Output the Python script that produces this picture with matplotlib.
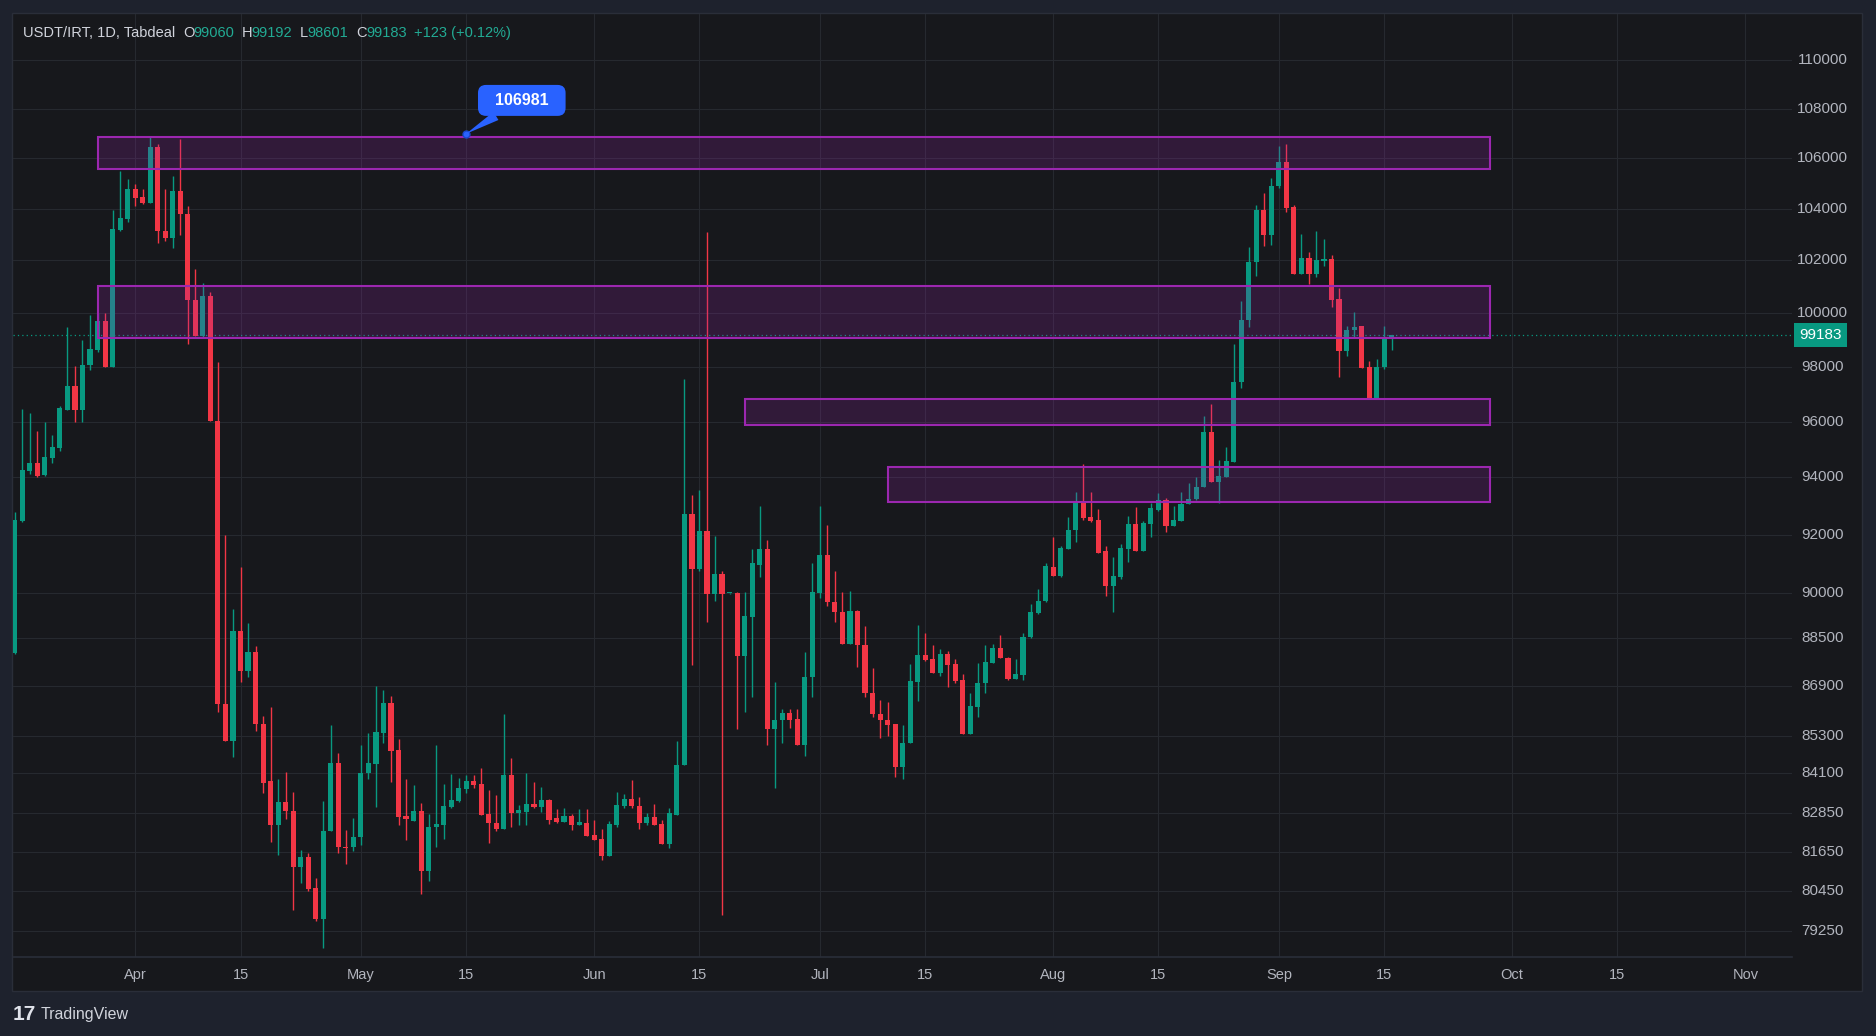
import numpy as np
import pandas as pd
import matplotlib
matplotlib.use('Agg')
import matplotlib.pyplot as plt
import matplotlib.dates as mdates
import matplotlib.transforms as mtransforms
from matplotlib.patches import Rectangle
from matplotlib.ticker import NullLocator

plt.rcParams['font.family'] = ['Liberation Sans', 'DejaVu Sans']

# daily candles USDT/IRT (Tabdeal), 16 Mar 2025 -> 15 Sep 2025
opens = [87990, 92480, 94240, 94510, 94070, 94700, 95040, 96430, 97300, 96430,
         98080, 98620, 99700, 97990, 103190, 103610, 104780, 104460, 104210, 106440,
         103140, 102870, 104690, 103780, 100500, 99140, 100660, 96010, 86330, 85110,
         88710, 87410, 88030, 85660, 83850, 82460, 83200, 82910, 81190, 81500,
         80550, 79620, 82300, 84410, 81790, 81780, 82100, 84100, 84400, 85390,
         86360, 84840, 82750, 82610, 82910, 81070, 82400, 82480, 83050, 83210,
         83590, 83850, 83760, 82810, 82550, 82350, 84040, 82850, 82890, 83140,
         83050, 83260, 82680, 82570, 82750, 82460, 82540, 82170, 82030, 81510,
         82460, 83060, 83300, 83060, 82540, 82710, 82500, 81900, 82780, 84350,
         92710, 90800, 92120, 89980, 90660, 89990, 90000, 87880, 89180, 90970,
         91510, 85510, 85790, 86010, 85830, 85000, 87210, 90000, 91280, 89700,
         89360, 88290, 89400, 88240, 86680, 85990, 85810, 85660, 84290, 85050,
         87040, 87930, 87790, 87340, 87960, 87630, 87100, 85360, 86230, 87010,
         87670, 88150, 87820, 87150, 87260, 88510, 89320, 89720, 90890, 90590,
         91490, 92150, 93180, 92600, 92520, 91430, 90230, 90550, 91490, 92380,
         91430, 92380, 92840, 93190, 92290, 92460, 93080, 93240, 93680, 95630,
         93850, 94020, 94550, 97440, 99730, 101940, 103940, 102970, 104880, 105830,
         104060, 101480, 102090, 101480, 101990, 102060, 100520, 98580, 99360, 99510,
         97990, 96850, 98000, 99060]
highs = [92780, 96440, 96310, 95640, 96000, 95520, 96570, 99480, 98040, 98990,
         99940, 100000, 100000, 103970, 105500, 105180, 104970, 104780, 106890, 106580,
         104780, 105290, 106770, 104120, 101680, 101130, 100800, 98180, 91990, 89470,
         90880, 89000, 88230, 85940, 86230, 83910, 84130, 83520, 81710, 81610,
         80840, 83230, 85650, 84750, 82320, 82680, 85000, 85370, 86900, 86770,
         86580, 85180, 83910, 83720, 83150, 82810, 85000, 83760, 84080, 83940,
         84040, 84040, 84270, 83560, 83400, 85990, 84570, 83110, 84100, 83810,
         83660, 83300, 82960, 83020, 82820, 82960, 82960, 82640, 82360, 82600,
         83520, 83440, 83880, 83360, 82850, 83140, 82640, 82990, 85120, 97530,
         93370, 93560, 103100, 91940, 90740, 90010, 90020, 90020, 91510, 93010,
         91830, 87030, 86140, 86160, 86160, 88010, 91010, 92980, 92320, 90740,
         90020, 90060, 89440, 88880, 87500, 86440, 86370, 85660, 85630, 87630,
         88930, 88670, 88260, 88110, 88070, 87780, 87300, 86680, 87650, 88260,
         88280, 88590, 87870, 87780, 88650, 89640, 90140, 91010, 91920, 91620,
         92600, 93500, 94480, 93500, 92890, 91600, 91230, 91690, 92640, 92970,
         92460, 93100, 93450, 93270, 93010, 93500, 93790, 94000, 96190, 96640,
         94620, 95100, 98830, 100450, 102520, 104160, 104620, 105220, 106490, 106580,
         104160, 103030, 102320, 103140, 102840, 102220, 100930, 99510, 100030, 99530,
         98210, 98300, 99530, 99192]
lows = [87950, 92420, 94110, 94000, 94050, 94510, 94930, 96430, 96000, 96000,
        97890, 98540, 97990, 97990, 103120, 103500, 104120, 104170, 104210, 102660,
        102730, 102480, 102980, 98860, 99140, 99110, 96010, 86060, 85110, 84620,
        87040, 87210, 85450, 83480, 81950, 81550, 82660, 79870, 80680, 80440,
        79560, 78750, 82300, 81620, 81270, 81680, 81860, 83910, 83030, 85050,
        83830, 82480, 82010, 82600, 80360, 80760, 81800, 82040, 83000, 83180,
        83460, 83630, 82780, 81930, 82300, 82350, 82420, 82460, 82460, 83020,
        82880, 82500, 82540, 82570, 82310, 82460, 82140, 82000, 81400, 81510,
        82400, 83020, 83020, 82360, 82460, 82460, 81900, 81750, 82780, 84350,
        87600, 90740, 89010, 89720, 79730, 89950, 85510, 86050, 86550, 90550,
        85000, 83620, 85060, 85540, 85000, 84630, 86550, 89830, 89550, 89010,
        88290, 88290, 87530, 86550, 85900, 85230, 85300, 83990, 83920, 85050,
        86420, 87740, 87340, 87230, 86860, 87010, 85360, 85360, 85900, 86680,
        87650, 87820, 87100, 87150, 87100, 88490, 89290, 89680, 90590, 90550,
        91490, 91740, 92520, 92430, 91370, 89890, 89350, 90480, 91050, 91430,
        91430, 91920, 92810, 92080, 92290, 92460, 93080, 93190, 93680, 93850,
        93100, 94000, 94550, 97220, 99480, 101420, 102560, 102580, 104800, 103870,
        101480, 101480, 101100, 101360, 101780, 100230, 97630, 98400, 99110, 97960,
        96850, 96850, 97900, 98601]
closes = [92510, 94260, 94510, 94050, 94710, 95090, 96500, 97300, 96430, 98080,
          98660, 99700, 97990, 103200, 103640, 104780, 104430, 104210, 106440, 103140,
          102870, 104700, 103780, 100500, 99140, 100660, 96010, 86330, 85110, 88710,
          87410, 88030, 85660, 83800, 82460, 83200, 82910, 81190, 81500, 80520,
          79620, 82300, 84410, 81780, 81770, 82100, 84100, 84420, 85400, 86360,
          84810, 82730, 82650, 82910, 81070, 82420, 82500, 83070, 83260, 83630,
          83850, 83720, 82780, 82540, 82350, 84040, 82850, 82940, 83140, 83050,
          83260, 82640, 82570, 82750, 82460, 82570, 82140, 82000, 81510, 82500,
          83110, 83300, 83060, 82540, 82710, 82460, 81900, 82850, 84350, 92710,
          90810, 92120, 89980, 90660, 89980, 89990, 87880, 89210, 91010, 91510,
          85510, 85810, 86010, 85810, 85000, 87210, 90020, 91280, 89700, 89350,
          88290, 89400, 88240, 86660, 85980, 85790, 85630, 84290, 85070, 87080,
          87930, 87760, 87340, 87960, 87600, 87080, 85360, 86250, 87010, 87680,
          88150, 87820, 87150, 87290, 88510, 89360, 89720, 90910, 90590, 91520,
          92170, 93180, 92560, 92460, 91370, 90230, 90570, 91520, 92380, 91430,
          92400, 92930, 93190, 92290, 92500, 93080, 93240, 93680, 95630, 93850,
          94050, 94600, 97440, 99750, 101940, 103940, 102970, 104900, 105830, 104040,
          101480, 102090, 101480, 102030, 102060, 100490, 98580, 99380, 99480, 97960,
          96850, 98000, 99060, 99183]
dates = pd.date_range('2025-03-16', periods=len(opens), freq='D')

price_ticks = [110000, 108000, 106000, 104000, 102000, 100000, 98000, 96000, 94000,
               92000, 90000, 88500, 86900, 85300, 84100, 82850, 81650, 80450, 79250]
# where the time scale puts its marks (TradingView sits Sep / 15 one bar early here)
time_ticks = ['2025-04-01', '2025-04-15', '2025-05-01', '2025-05-15', '2025-06-01',
              '2025-06-15', '2025-07-01', '2025-07-15', '2025-08-01', '2025-08-15',
              '2025-08-31', '2025-09-14', '2025-10-01', '2025-10-15', '2025-11-01']
time_labels = ['Apr', '15', 'May', '15', 'Jun', '15', 'Jul', '15', 'Aug', '15',
               'Sep', '15', 'Oct', '15', 'Nov']

# rectangles drawn on the chart
zone_start = ['2025-03-27', '2025-03-27', '2025-06-21', '2025-07-10']
zone_end = ['2025-09-28', '2025-09-28', '2025-09-28', '2025-09-28']
zone_low = [105585, 99047, 95886, 93122]
zone_high = [106830, 101027, 96799, 94386]

callout_date = '2025-05-15'
callout_price = 106981
last_price = closes[-1]

UP = '#089981'
DOWN = '#f23645'
BG = '#17181c'
FRAME = '#1e222d'
GRID = '#26292f'
TXT = '#b2b5be'

W, H = 1876, 1036
fig = plt.figure(figsize=(W / 100, H / 100), dpi=100)
fig.patch.set_facecolor(FRAME)
fig.add_artist(Rectangle((12 / W, 1 - 991 / H), 1850 / W, 978 / H, transform=fig.transFigure,
                         facecolor=BG, edgecolor='#2a2e39', lw=1, zorder=0))

ax = fig.add_axes([12.9 / W, 1 - 957 / H, (1792 - 12.9) / W, (957 - 13.6) / H])
ax.set_facecolor('none')
ax.set_yscale('log')

xs = mdates.date2num(dates)
o = np.array(opens, float)
h = np.array(highs, float)
l = np.array(lows, float)
c = np.array(closes, float)
cols = np.where(c >= o, UP, DOWN)
bottoms = np.minimum(o, c)
heights = np.maximum(np.abs(c - o), 35)

ax.vlines(xs, l, h, colors=cols, lw=1, zorder=3)
ax.bar(xs, heights, bottom=bottoms, width=0.68, color=cols, lw=0, zorder=4)

for s, e, lo, hi in zip(zone_start, zone_end, zone_low, zone_high):
    x0 = mdates.date2num(pd.Timestamp(s))
    x1 = mdates.date2num(pd.Timestamp(e))
    ax.add_patch(Rectangle((x0, lo), x1 - x0, hi - lo, facecolor='#9c27b0', alpha=0.2,
                           edgecolor='none', zorder=5))
    ax.add_patch(Rectangle((x0, lo), x1 - x0, hi - lo, facecolor='none',
                           edgecolor='#9c27b0', lw=1.5, zorder=6))

# last price line
ax.axhline(last_price, color=UP, ls=(0, (1, 2.5)), lw=0.9, zorder=2)

apr1 = mdates.date2num(pd.Timestamp('2025-04-01'))
ax.set_xlim(apr1 - 16.25, apr1 + 220.2)
ax.set_ylim(78478, 111929)

ax.set_yticks(price_ticks)
ax.yaxis.set_minor_locator(NullLocator())
ax.set_xticks(mdates.date2num(pd.to_datetime(time_ticks)))
ax.xaxis.set_minor_locator(NullLocator())
ax.grid(True, color=GRID, lw=0.8, zorder=0)
ax.tick_params(length=0, labelleft=False, labelbottom=False, labelright=False)
for side in ['top', 'left', 'right']:
    ax.spines[side].set_visible(False)
ax.spines['bottom'].set_color('#2a2e39')
ax.spines['bottom'].set_linewidth(1.2)

# price scale labels
ytr = mtransforms.blended_transform_factory(fig.transFigure, ax.transData)
for p in price_ticks:
    ax.text(1822.5 / W, p, str(p), transform=ytr, ha='center', va='center',
            color=TXT, fontsize=11, clip_on=False)
ax.text(1820.5 / W, last_price, '99183', transform=ytr, ha='center', va='center',
        color='white', fontsize=11, clip_on=False, zorder=10,
        bbox=dict(boxstyle='square,pad=0.32', fc=UP, ec='none'))

# time scale labels
xtr = mtransforms.blended_transform_factory(ax.transData, fig.transFigure)
for d, lab in zip(time_ticks, time_labels):
    ax.text(mdates.date2num(pd.Timestamp(d)), 1 - 975 / H, lab, transform=xtr,
            ha='center', va='center', color=TXT, fontsize=10.5, clip_on=False)

# callout
cx = mdates.date2num(pd.Timestamp(callout_date))
ax.plot([cx], [callout_price], marker='o', ms=5, color='#2962ff', mec='#1848cc', zorder=9)
ax.annotate('  106981  ', xy=(cx, callout_price), xytext=(40, 24), textcoords='offset points',
            ha='center', va='center', color='white', fontsize=11.5, fontweight='bold', zorder=9,
            bbox=dict(boxstyle='round,pad=0.5,rounding_size=0.5', fc='#2962ff', ec='none'),
            arrowprops=dict(arrowstyle='wedge,tail_width=0.6', fc='#2962ff', ec='none',
                            shrinkA=0, shrinkB=0))

# header legend
hy = 1 - 33 / H
parts = [('USDT/IRT, 1D, Tabdeal', 23.2, '#d1d4dc'), ('O', 182.9, '#d1d4dc'),
         ('99060', 192.9, '#22ab94'), ('H', 241.8, '#d1d4dc'), ('99192', 251.8, '#22ab94'),
         ('L', 300, '#d1d4dc'), ('98601', 307, '#22ab94'), ('C', 356.4, '#d1d4dc'),
         ('99183', 366, '#22ab94'), ('+123 (+0.12%)', 413.6, '#22ab94')]
for txt, px, col in parts:
    fig.text(px / W, hy, txt, ha='left', va='center', color=col, fontsize=10.5)

# watermark logo
fig.text(13 / W, 1 - 1015 / H, '17', ha='left', va='center', color='#e0e3eb',
         fontsize=15, fontweight='bold')
fig.text(41 / W, 1 - 1015 / H, 'TradingView', ha='left', va='center', color='#d1d4dc',
         fontsize=11.5)

fig.savefig('out.png', dpi=100, facecolor=fig.get_facecolor())
